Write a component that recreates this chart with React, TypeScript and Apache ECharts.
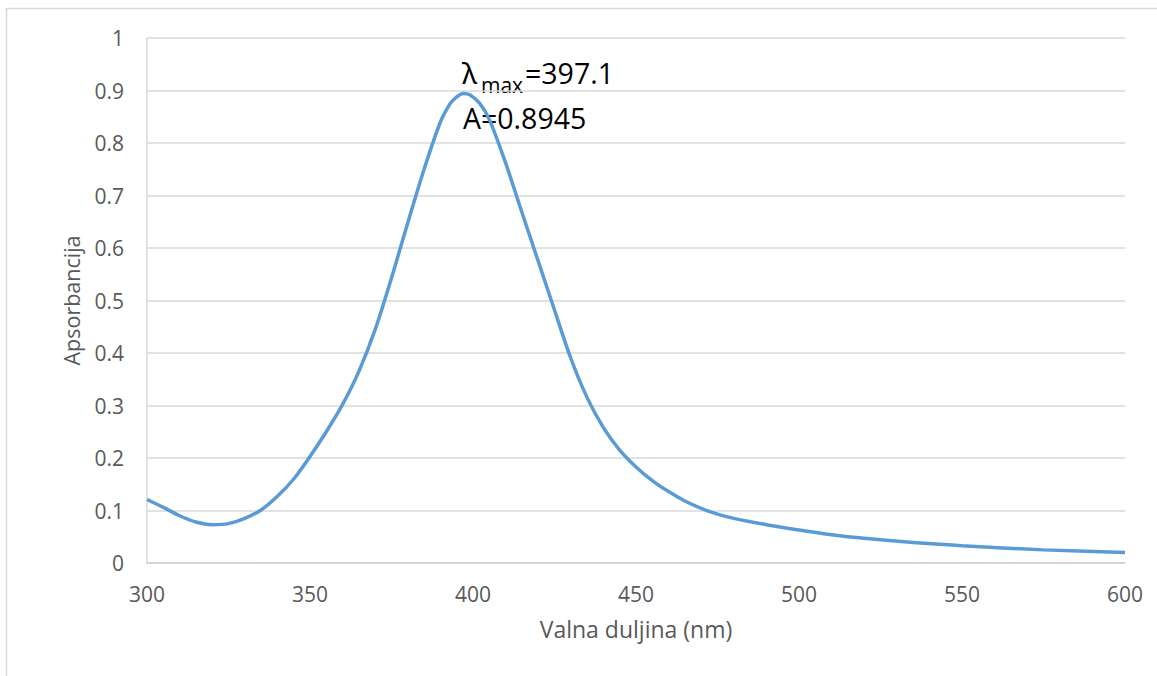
import React, { useEffect, useRef } from "react";
import * as echarts from "echarts";

const wavelengths = [
  300, 305, 310, 315, 320, 325, 330, 335, 340, 345, 350, 355, 360, 365, 370,
  375, 380, 385, 390, 393, 395, 397, 399, 402, 405, 410, 415, 420, 425, 430,
  435, 440, 445, 450, 455, 460, 465, 470, 475, 480, 490, 500, 510, 520, 535,
  550, 575, 600,
];
const absorbance = [
  0.121, 0.106, 0.09, 0.078, 0.073, 0.075, 0.085, 0.101, 0.127, 0.16, 0.203,
  0.25, 0.302, 0.365, 0.445, 0.543, 0.648, 0.75, 0.84, 0.875, 0.888, 0.8945,
  0.892, 0.876, 0.845, 0.762, 0.668, 0.575, 0.482, 0.39, 0.315, 0.258, 0.215,
  0.183, 0.157, 0.136, 0.118, 0.104, 0.093, 0.085, 0.073, 0.063, 0.054, 0.047,
  0.039, 0.033, 0.025, 0.02,
];
const xTitle = "Valna duljina (nm)";
const yTitle = "Apsorbancija";
const annLambda = "397.1";
const annA = "0.8945";

const FONT = "'Open Sans', sans-serif";

export default function App() {
  const ref = useRef<HTMLDivElement>(null);
  useEffect(() => {
    if (!ref.current) return;
    const chart = echarts.init(ref.current, null, { renderer: "svg" });
    const data = wavelengths.map((w, i) => [w, absorbance[i]]);
    chart.setOption({
      animation: false,
      backgroundColor: "#ffffff",
      textStyle: { fontFamily: FONT },
      grid: { left: 147, top: 38, width: 978, height: 525, containLabel: false },
      xAxis: {
        type: "value",
        min: 300,
        max: 600,
        interval: 50,
        name: xTitle,
        nameLocation: "middle",
        nameGap: 54,
        nameTextStyle: { fontSize: 23, color: "#595959", fontFamily: FONT },
        axisLine: { show: true, lineStyle: { color: "#d0d0d0", width: 1.5 } },
        axisTick: { show: false },
        splitLine: { show: false },
        axisLabel: { fontSize: 21, color: "#595959", margin: 20, fontFamily: FONT },
      },
      yAxis: {
        type: "value",
        min: 0,
        max: 1,
        interval: 0.1,
        name: yTitle,
        nameLocation: "middle",
        nameGap: 65,
        nameRotate: 90,
        nameTextStyle: { fontSize: 21.5, color: "#595959", fontFamily: FONT },
        axisLine: { show: true, lineStyle: { color: "#d9d9d9", width: 1.5 } },
        axisTick: { show: false },
        splitLine: { show: true, lineStyle: { color: "#d9d9d9", width: 1.5 } },
        axisLabel: { fontSize: 21, color: "#595959", margin: 23, fontFamily: FONT },
      },
      series: [
        {
          type: "line",
          data,
          smooth: 0.3,
          showSymbol: false,
          lineStyle: { color: "#5b9bd5", width: 3.5 },
          itemStyle: { color: "#5b9bd5" },
        },
      ],
      graphic: [
        {
          type: "rect",
          shape: { x: 6.5, y: 8.5, width: 1300, height: 800 },
          style: { fill: "none", stroke: "#d9d9d9", lineWidth: 1.5 },
          silent: true,
        },
        {
          type: "text",
          x: 462,
          y: 87,
          style: { text: "λ", fontSize: 29, fontFamily: "'Noto Sans', 'DejaVu Sans', sans-serif", fill: "#000", verticalAlign: "bottom" },
        },
        {
          type: "text",
          x: 481,
          y: 95,
          style: { text: "max", fontSize: 21, fontFamily: FONT, fill: "#000", verticalAlign: "bottom" },
        },
        {
          type: "text",
          x: 525,
          y: 87,
          style: { text: "=" + annLambda, fontSize: 28.5, fontFamily: FONT, fill: "#000", verticalAlign: "bottom" },
        },
        {
          type: "text",
          x: 463,
          y: 132,
          style: { text: "A=" + annA, fontSize: 28.5, fontFamily: FONT, fill: "#000", verticalAlign: "bottom" },
        },
      ],
    });
    return () => chart.dispose();
  }, []);
  return (
    <div
      ref={ref}
      style={{ position: "fixed", left: 0, top: 0, width: 1157, height: 676 }}
    />
  );
}
